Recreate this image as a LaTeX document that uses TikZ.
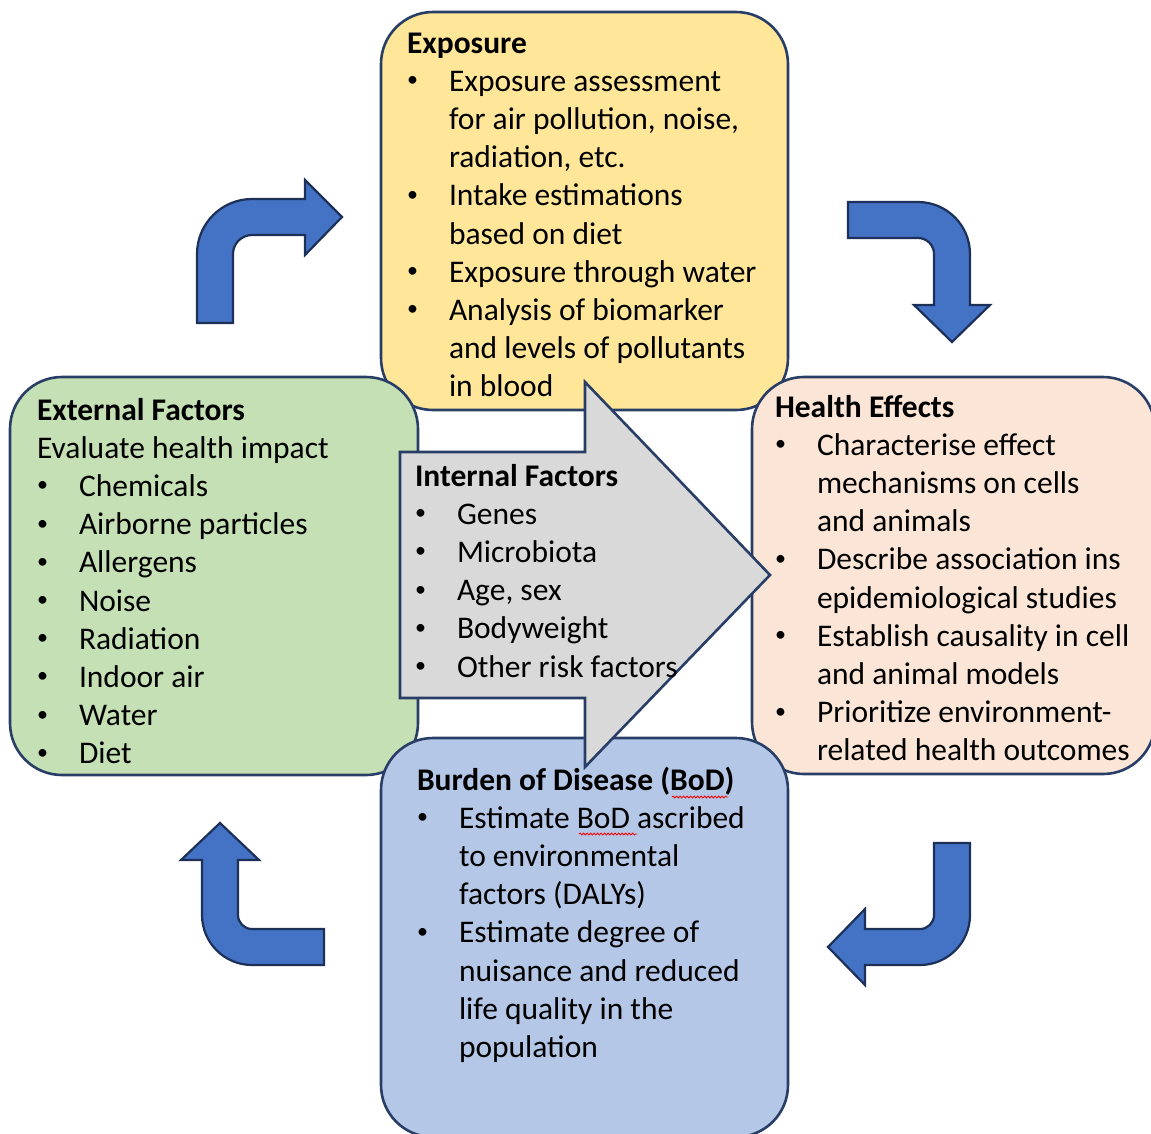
\documentclass[tikz,border=0pt]{standalone}
\usepackage{fontspec}
\setmainfont{Carlito}
\usetikzlibrary{decorations.pathmorphing}
\definecolor{boxline}{RGB}{40,62,102}
\definecolor{bendline}{RGB}{28,48,88}
\definecolor{bendfill}{RGB}{68,114,196}
\definecolor{expfill}{RGB}{255,230,153}
\definecolor{extfill}{RGB}{197,224,180}
\definecolor{healthfill}{RGB}{251,229,214}
\definecolor{bodfill}{RGB}{180,199,231}
\definecolor{intfill}{RGB}{217,217,217}
% small list bullet and one bullet item with a hanging indent
\newcommand{\smallbullet}{\raisebox{4.6pt}{\fontsize{22}{22}\selectfont\textbullet}}
\newcommand{\bitem}{\par\hangindent=42pt\hangafter=1\noindent\makebox[42pt][l]{\smallbullet}}
\newcommand{\boxtext}[1]{\parbox[t]{520pt}{\fontsize{31.5}{38.2}\selectfont #1}}
\begin{document}
\begin{tikzpicture}[x=1pt,y=-1pt,
  panel/.style={draw=boxline, line width=2.6pt, rounded corners=52pt, inner sep=0pt},
  cyclearrow/.style={draw=bendline, fill=bendfill, line width=2.2pt, line join=miter},
  txt/.style={anchor=base west, inner sep=0pt, outer sep=0pt, text=black},
  spell/.style={red, line width=0.8pt, decorate, decoration={snake, amplitude=1pt, segment length=3.5pt}}
]
\useasboundingbox (0,0) rectangle (1151,1133);
\clip (0,0) rectangle (1151,1133);

% the four rounded panels
\node[panel, fill=expfill, minimum width=407pt, minimum height=398pt] (exposure) at (584.5,211) {};
\node[panel, fill=extfill, minimum width=408pt, minimum height=398pt] (external) at (214,576) {};
\node[panel, fill=healthfill, minimum width=403pt, minimum height=397pt] (health) at (953.5,575.5) {};
\node[panel, fill=bodfill, minimum width=407pt, minimum height=399pt] (bod) at (584.5,937.5) {};

% large grey block arrow in the middle
\draw[draw=boxline, line width=2.6pt, fill=intfill, line join=miter]
  (400,452) -- (585,452) -- (585,382) -- (770,575) -- (585,767) -- (585,698) -- (400,698) -- cycle;

% bent arrows of the cycle
\draw[cyclearrow] (197,323) -- (197,254) arc[start angle=180, end angle=90, radius=55pt]
  -- (305,199) -- (305,180) -- (342,217) -- (305,255) -- (305,235) -- (252,235)
  arc[start angle=90, end angle=180, radius=19pt] -- (233,323) -- cycle;
\draw[cyclearrow] (848,202) -- (918,202) arc[start angle=90, end angle=0, radius=52pt]
  -- (970,305) -- (990,305) -- (952,342) -- (914,305) -- (934,305) -- (934,254)
  arc[start angle=0, end angle=90, radius=16pt] -- (848,238) -- cycle;
\draw[cyclearrow] (934,843) -- (970,843) -- (970,915) arc[start angle=0, end angle=-90, radius=50pt]
  -- (865,965) -- (865,985) -- (828,947) -- (865,909) -- (865,929) -- (920,929)
  arc[start angle=-90, end angle=0, radius=14pt] -- cycle;
\draw[cyclearrow] (324,929) -- (252,929) arc[start angle=-90, end angle=-180, radius=14pt]
  -- (238,860) -- (259,860) -- (220,823) -- (181,860) -- (202,860) -- (202,915)
  arc[start angle=180, end angle=270, radius=50pt] -- (324,965) -- cycle;

% panel texts
\node[txt] (exptext) at (407,53) {\boxtext{\textbf{Exposure}
  \bitem Exposure assessment\newline for air pollution, noise,\newline radiation, etc.
  \bitem Intake estimations\newline based on diet
  \bitem Exposure through water
  \bitem Analysis of biomarker\newline and levels of pollutants\newline in blood}};
\node[txt] (exttext) at (37,420) {\boxtext{\textbf{External Factors}\par
  Evaluate health impact
  \bitem Chemicals
  \bitem Airborne particles
  \bitem Allergens
  \bitem Noise
  \bitem Radiation
  \bitem Indoor air
  \bitem Water
  \bitem Diet}};
\node[txt] (inttext) at (415,486) {\boxtext{\textbf{Internal Factors}
  \bitem Genes
  \bitem Microbiota
  \bitem Age, sex
  \bitem Bodyweight
  \bitem Other risk factors}};
\node[txt] (healthtext) at (775,417) {\boxtext{\textbf{Health Effects}
  \bitem Characterise effect\newline mechanisms on cells\newline and animals
  \bitem Describe association ins\newline epidemiological studies
  \bitem Establish causality in cell\newline and animal models
  \bitem Prioritize environment-\newline related health outcomes}};
\node[txt] (bodtext) at (417,790) {\boxtext{\textbf{Burden of Disease (BoD)}
  \bitem Estimate BoD ascribed\newline to environmental\newline factors (DALYs)
  \bitem Estimate degree of\newline nuisance and reduced\newline life quality in the\newline population}};

% spell-check marks under "BoD"
\draw[spell] (672,797) -- (728,797);
\draw[spell] (579,834) -- (637,834);
\end{tikzpicture}
\end{document}
